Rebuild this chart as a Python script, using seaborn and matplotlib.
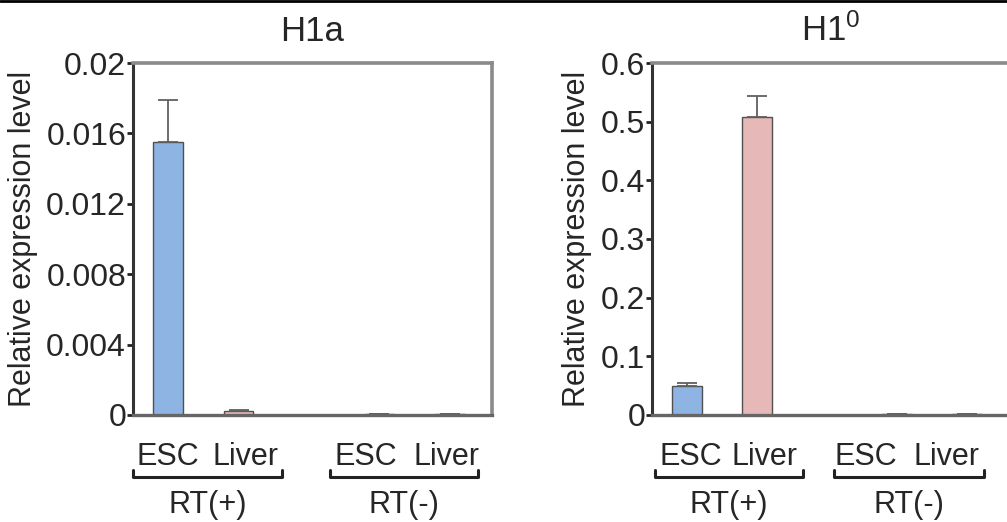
import pandas as pd
import matplotlib.pyplot as plt
import seaborn as sns
from matplotlib.lines import Line2D

# data
samples = ['ESC_RT+', 'Liver_RT+', 'gap', 'ESC_RT-', 'Liver_RT-']
bar_samples = ['ESC_RT+', 'Liver_RT+', 'ESC_RT-', 'Liver_RT-']
tick_labels = ['ESC', 'Liver', 'ESC', 'Liver']
groups = ['RT(+)', 'RT(-)']

h1a_mean = [0.0155, 0.0002, 0.00003, 0.00005]
h1a_err = [0.0024, 0.0001, 0.0, 0.0]
h10_mean = [0.050, 0.508, 0.001, 0.001]
h10_err = [0.004, 0.035, 0.0, 0.0]

colors = {'ESC_RT+': '#8db4e2', 'Liver_RT+': '#e6b9b8',
          'ESC_RT-': '#8db4e2', 'Liver_RT-': '#e6b9b8'}

sns.set_style('white')
plt.rcParams['font.family'] = ['Liberation Sans', 'DejaVu Sans']
plt.rcParams['mathtext.default'] = 'regular'

fig = plt.figure(figsize=(10.07, 5.22), dpi=100, facecolor='white')
ax1 = fig.add_axes([0.1321, 0.205, 0.3565, 0.6743])
ax2 = fig.add_axes([0.6475, 0.205, 0.3545, 0.6743])

panels = [
    (ax1, h1a_mean, h1a_err, 'H1a', 0.02, [0, 0.004, 0.008, 0.012, 0.016, 0.02],
     ['0', '0.004', '0.008', '0.012', '0.016', '0.02'], [0, 1.1, 2.8, 3.95],
     [(0.0, 0.415), (0.549, 0.961)]),
    (ax2, h10_mean, h10_err, 'H1$^{0}$', 0.6, [0, 0.1, 0.2, 0.3, 0.4, 0.5, 0.6],
     ['0', '0.1', '0.2', '0.3', '0.4', '0.5', '0.6'], [0.05, 1.1, 2.55, 3.7],
     [(0.008, 0.423), (0.51, 0.93)]),
]

for ax, mean, err, title, ymax, yticks, ylabels, xt, brackets in panels:
    df = pd.DataFrame({'sample': bar_samples, 'value': mean, 'err': err})
    sns.barplot(data=df, x='sample', y='value', hue='sample', order=samples,
                palette=colors, saturation=1, width=0.42, edgecolor='#505050',
                linewidth=1, errorbar=None, legend=False, ax=ax)
    pos = [samples.index(s) for s in df['sample']]
    ax.errorbar(pos, df['value'], yerr=[[0] * len(df), df['err']], fmt='none',
                ecolor='#606060', elinewidth=1.3, capsize=7, capthick=1.3)

    ax.set_xlim(-0.5, 4.6)
    ax.set_ylim(0, ymax)
    ax.set_yticks(yticks)
    ax.set_yticklabels(ylabels)
    ax.set_xticks(xt)
    ax.set_xticklabels(tick_labels)
    ax.set_xlabel('')
    ax.set_ylabel('Relative expression level', fontsize=22, labelpad=6)
    ax.set_title(title, fontsize=25, pad=16)
    ax.tick_params(axis='y', left=True, length=4, width=2, color='#222222',
                   labelsize=23, pad=1)
    ax.tick_params(axis='x', bottom=False, labelsize=22, pad=16)

    for side in ['top', 'right']:
        ax.spines[side].set_color('#8a8a8a')
        ax.spines[side].set_linewidth(2.6)
    ax.spines['bottom'].set_color('#666666')
    ax.spines['bottom'].set_linewidth(2.4)
    ax.spines['left'].set_color('#333333')
    ax.spines['left'].set_linewidth(2.2)

    # brackets with group labels under the tick labels
    for (x0, x1), g in zip(brackets, groups):
        ax.plot([x0, x0, x1, x1], [-0.155, -0.176, -0.176, -0.155],
                transform=ax.transAxes, color='#222222', lw=2.2,
                clip_on=False, solid_joinstyle='round')
        ax.text((x0 + x1) / 2, -0.255, g, transform=ax.transAxes,
                ha='center', va='center', fontsize=22)

fig.add_artist(Line2D([0, 1], [0.999, 0.999], color='black', lw=2))

fig.savefig('out.png', dpi=100)
